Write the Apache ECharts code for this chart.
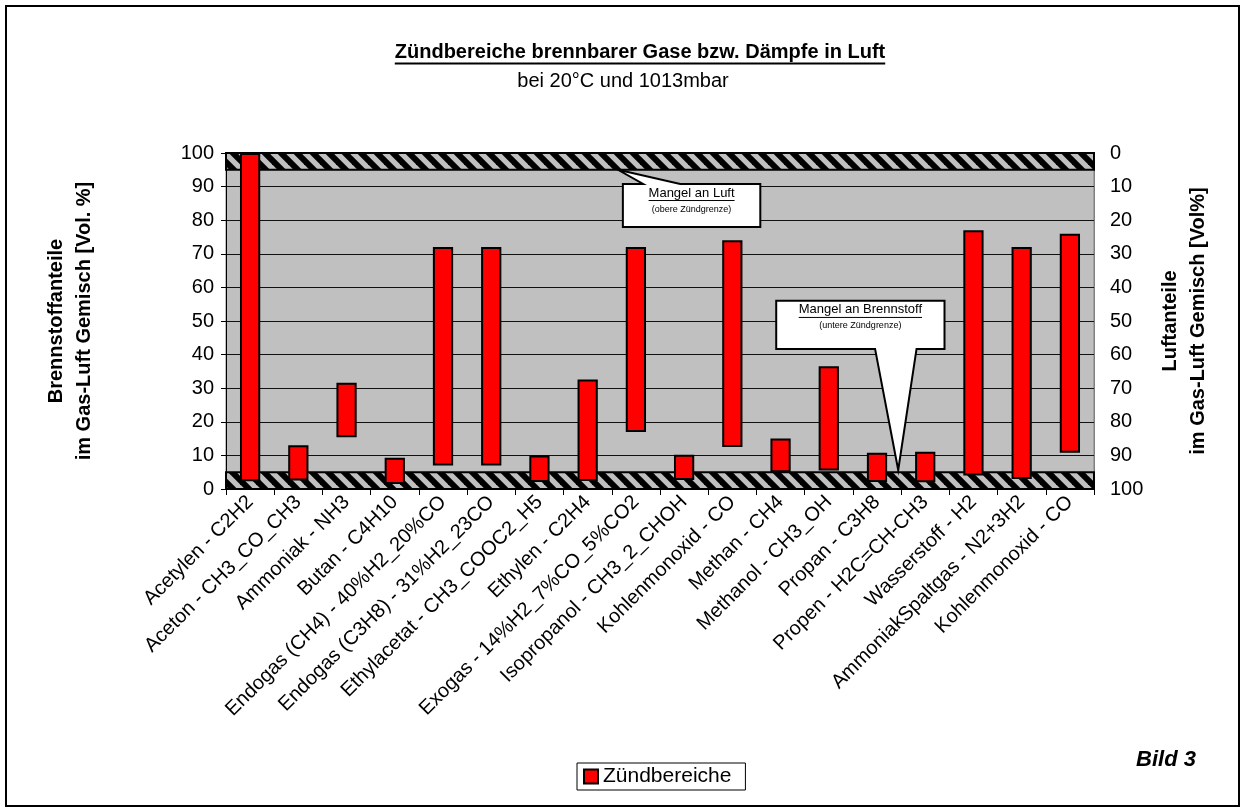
<!DOCTYPE html>
<html>
<head>
<meta charset="utf-8">
<script src="https://cdn.jsdelivr.net/npm/echarts@6/dist/echarts.min.js"></script>
<style>
html, body { margin: 0; padding: 0; background: #fff; }
#main { width: 1246px; height: 812px; }
</style>
</head>
<body>
<div id="main"></div>
<script>
// Zündbereiche (untere / obere Zündgrenze in Vol.%)
var categories = [
    'Acetylen - C2H2',
    'Aceton - CH3_CO_CH3',
    'Ammoniak - NH3',
    'Butan - C4H10',
    'Endogas (CH4) - 40%H2_20%CO',
    'Endogas (C3H8) - 31%H2_23CO',
    'Ethylacetat - CH3_COOC2_H5',
    'Ethylen - C2H4',
    'Exogas - 14%H2_7%CO_5%CO2',
    'Isopropanol - CH3_2_CHOH',
    'Kohlenmonoxid - CO',
    'Methan - CH4',
    'Methanol - CH3_OH',
    'Propan - C3H8',
    'Propen - H2C=CH-CH3',
    'Wasserstoff - H2',
    'AmmoniakSpaltgas - N2+3H2',
    'Kohlenmonoxid - CO'
];
var lowerLimit = [2.3, 2.5, 15.4, 1.5, 7, 7, 2.1, 2.4, 17, 2.7, 12.5, 5, 5.5, 2.1, 2.0, 4, 3, 10.8];
var upperLimit = [100, 13, 31.6, 9.3, 72, 72, 10, 32.6, 72, 10.2, 74, 15, 36.5, 10.8, 11.1, 77, 72, 76];
var bandLimits = [[0, 5], [95, 100]];

var FONT = '"Liberation Sans", Arial, sans-serif';

var rangeSize = upperLimit.map(function (u, i) {
    return +(u - lowerLimit[i]).toFixed(2);
});

// hatch pattern for the bands
var hatch = document.createElement('canvas');
hatch.width = 16;
hatch.height = 16;
var hctx = hatch.getContext('2d');
hctx.fillStyle = '#c0c0c0';
hctx.fillRect(0, 0, 16, 16);
hctx.strokeStyle = '#000';
hctx.lineWidth = 6;
[-16, 0, 16].forEach(function (k) {
    hctx.beginPath();
    hctx.moveTo(k - 4, -4);
    hctx.lineTo(k + 20, 20);
    hctx.stroke();
});

var chart = echarts.init(document.getElementById('main'));
var option = {
    backgroundColor: '#fff',
    animation: false,
    textStyle: { fontFamily: FONT },
    grid: {
        left: 226,
        right: 152,
        top: 153,
        bottom: 323,
        show: true,
        backgroundColor: '#c0c0c0',
        borderColor: '#808080',
        borderWidth: 1
    },
    legend: {
        data: ['Zündbereiche'],
        left: 577,
        top: 763,
        itemWidth: 14,
        itemHeight: 14,
        itemGap: 4,
        padding: [3, 14, 3, 6],
        borderColor: '#000',
        borderWidth: 1,
        icon: 'rect',
        textStyle: { fontSize: 21, color: '#000', fontFamily: FONT }
    },
    xAxis: {
        type: 'category',
        data: categories,
        axisLine: { lineStyle: { color: '#000', width: 1 } },
        axisTick: { show: true, length: 6, lineStyle: { color: '#000' } },
        axisLabel: {
            interval: 0,
            rotate: 45,
            margin: 10,
            fontSize: 20,
            color: '#000',
            fontFamily: FONT
        }
    },
    yAxis: [
        {
            type: 'value',
            min: 0,
            max: 100,
            interval: 10,
            name: 'Brennstoffanteile\nim Gas-Luft Gemisch [Vol. %]',
            nameLocation: 'middle',
            nameRotate: 90,
            nameGap: 128,
            nameTextStyle: { fontSize: 20, fontWeight: 'bold', color: '#000', lineHeight: 28, fontFamily: FONT },
            axisLine: { show: true, lineStyle: { color: '#000' } },
            axisTick: { show: true, length: 5, lineStyle: { color: '#000' } },
            axisLabel: { fontSize: 20, color: '#000', margin: 12, fontFamily: FONT },
            splitLine: { show: true, lineStyle: { color: '#111', width: 1 } }
        },
        {
            type: 'value',
            min: 0,
            max: 100,
            interval: 10,
            inverse: true,
            position: 'right',
            name: 'Luftanteile\nim Gas-Luft Gemisch [Vol%]',
            nameLocation: 'middle',
            nameRotate: 90,
            nameGap: 62,
            nameTextStyle: { fontSize: 20, fontWeight: 'bold', color: '#000', lineHeight: 28, fontFamily: FONT },
            axisLine: { show: true, lineStyle: { color: '#808080' } },
            axisTick: { show: false },
            axisLabel: { fontSize: 20, color: '#000', margin: 16, fontFamily: FONT },
            splitLine: { show: false }
        }
    ],
    series: [
        {
            name: 'base',
            type: 'bar',
            stack: 'range',
            silent: true,
            barWidth: '42%',
            itemStyle: { color: 'rgba(0,0,0,0)' },
            data: lowerLimit,
            markArea: {
                silent: true,
                itemStyle: {
                    color: { image: hatch, repeat: 'repeat' },
                    borderColor: '#000',
                    borderWidth: 2
                },
                data: bandLimits.map(function (b) {
                    return [{ yAxis: b[0] }, { yAxis: b[1] }];
                })
            }
        },
        {
            name: 'Zündbereiche',
            type: 'bar',
            stack: 'range',
            barWidth: '42%',
            itemStyle: { color: '#ff0000', borderColor: '#000', borderWidth: 2 },
            emphasis: { disabled: true },
            data: rangeSize
        }
    ]
};
chart.setOption(option);

// annotations placed from axis coordinates
function toPx(catPos, val) {
    var x0 = chart.convertToPixel({ xAxisIndex: 0 }, 0);
    var x1 = chart.convertToPixel({ xAxisIndex: 0 }, 1);
    var y = chart.convertToPixel({ yAxisIndex: 0 }, val);
    return [x0 + catPos * (x1 - x0), y];
}

var mctx = document.createElement('canvas').getContext('2d');
function textWidth(txt, font) {
    mctx.font = font;
    return mctx.measureText(txt).width;
}

function underlinedText(txt, x, y, size, weight, lw) {
    var w = textWidth(txt, (weight || 'normal') + ' ' + size + 'px ' + FONT);
    return [
        {
            type: 'text',
            x: x, y: y,
            z: 100,
            style: {
                text: txt, fill: '#000', font: (weight || 'normal') + ' ' + size + 'px ' + FONT,
                align: 'center', verticalAlign: 'middle'
            }
        },
        {
            type: 'line',
            z: 100,
            shape: { x1: x - w / 2, y1: y + size * 0.58, x2: x + w / 2, y2: y + size * 0.58 },
            style: { stroke: '#000', lineWidth: lw || 1 }
        }
    ];
}

function plainText(txt, x, y, size, extra) {
    return {
        type: 'text',
        x: x, y: y,
        z: 100,
        style: Object.assign({
            text: txt, fill: '#000', font: size + 'px ' + FONT,
            align: 'center', verticalAlign: 'middle'
        }, extra || {})
    };
}

var graphics = [];

// outer frame
graphics.push({
    type: 'rect',
    z: 100,
    shape: { x: 6, y: 6, width: 1233, height: 800 },
    style: { fill: 'none', stroke: '#000', lineWidth: 2 }
});

// title
graphics = graphics.concat(underlinedText('Zündbereiche brennbarer Gase bzw. Dämpfe in Luft', 640, 52, 20, 'bold', 2));
graphics.push(plainText('bei 20°C und 1013mbar', 623, 81, 20));

// callout: Mangel an Luft
var c1 = {
    tl: toPx(7.73, 90.8), br: toPx(10.58, 78),
    w1: toPx(8.15, 90.8), w2: toPx(8.92, 90.8), tip: toPx(7.63, 95)
};
graphics.push({
    type: 'polygon',
    z: 99,
    shape: {
        points: [
            [c1.tl[0], c1.tl[1]], [c1.w1[0], c1.tl[1]], c1.tip, [c1.w2[0], c1.tl[1]],
            [c1.br[0], c1.tl[1]], [c1.br[0], c1.br[1]], [c1.tl[0], c1.br[1]]
        ]
    },
    style: { fill: '#fff', stroke: '#000', lineWidth: 2 }
});
var c1x = (c1.tl[0] + c1.br[0]) / 2;
graphics = graphics.concat(underlinedText('Mangel an Luft', c1x, toPx(0, 88.1)[1], 13));
graphics.push(plainText('(obere Zündgrenze)', c1x, toPx(0, 83.3)[1], 9));

// callout: Mangel an Brennstoff
var c2 = {
    tl: toPx(10.91, 56), br: toPx(14.40, 41.7),
    w1: toPx(12.96, 41.7), w2: toPx(13.82, 41.7), tip: toPx(13.44, 5.65)
};
graphics.push({
    type: 'polygon',
    z: 99,
    shape: {
        points: [
            [c2.tl[0], c2.tl[1]], [c2.br[0], c2.tl[1]], [c2.br[0], c2.br[1]],
            [c2.w2[0], c2.br[1]], c2.tip, [c2.w1[0], c2.br[1]], [c2.tl[0], c2.br[1]]
        ]
    },
    style: { fill: '#fff', stroke: '#000', lineWidth: 2 }
});
var c2x = (c2.tl[0] + c2.br[0]) / 2;
graphics = graphics.concat(underlinedText('Mangel an Brennstoff', c2x, toPx(0, 53.3)[1], 13));
graphics.push(plainText('(untere Zündgrenze)', c2x, toPx(0, 48.8)[1], 9));

// Bild 3
graphics.push(plainText('Bild 3', 1196, 760, 22, {
    font: 'italic bold 22px ' + FONT, align: 'right'
}));

chart.setOption({ graphic: graphics });
</script>
</body>
</html>
